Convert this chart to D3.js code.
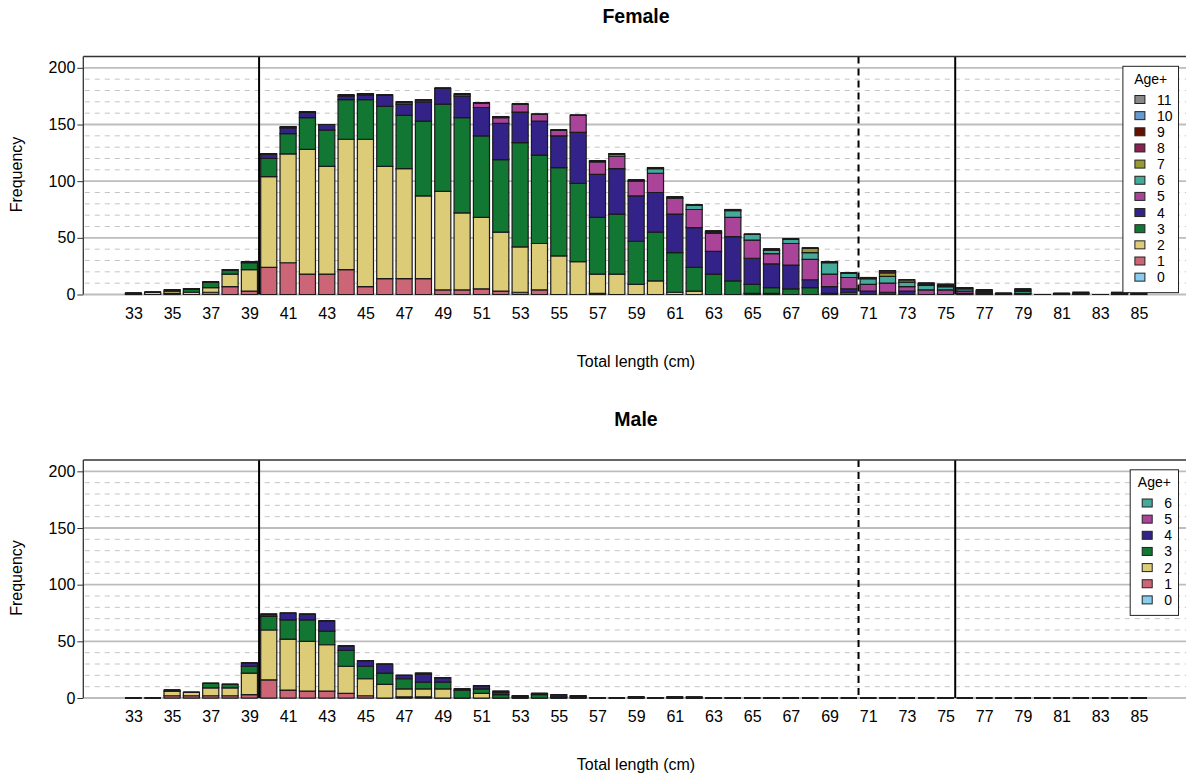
<!DOCTYPE html>
<html>
<head>
<meta charset="utf-8">
<script src="https://cdn.jsdelivr.net/npm/d3@7"></script>
<style>
  body { margin: 0; background: #fff; }
  text { font-family: "Liberation Sans", Arial, Helvetica, sans-serif; }
</style>
</head>
<body>
<svg id="chart" width="1186" height="778"></svg>
<script>
// length classes (cm), one bar each
const lengths = [33, 34, 35, 36, 37, 38, 39, 40, 41, 42,
  43, 44, 45, 46, 47, 48, 49, 50, 51, 52,
  53, 54, 55, 56, 57, 58, 59, 60, 61, 62,
  63, 64, 65, 66, 67, 68, 69, 70, 71, 72,
  73, 74, 75, 76, 77, 78, 79, 80, 81, 82,
  83, 84, 85];
const xTickLabels = [33, 35, 37, 39, 41, 43, 45, 47, 49, 51, 53, 55, 57, 59,
  61, 63, 65, 67, 69, 71, 73, 75, 77, 79, 81, 83, 85];
const yTicks = [0, 50, 100, 150, 200];
const ageColors = ['#88CCEE', '#CC6677', '#DDCC77', '#117733', '#332288', '#AA4499',
  '#44AA99', '#999933', '#882255', '#661100', '#6699CC', '#888888'];
const refLines = [39.5, 70.5, 75.5];

// Female counts per age, lengths 33..85
const femaleAge0 = [0, 0, 0, 0, 0, 0, 0, 0, 0, 0,  0, 0, 0, 0, 0, 0, 0, 0, 0, 0,
  0, 0, 0, 0, 0, 0, 0, 0, 0, 0,  0, 0, 0, 0, 0, 0, 0, 0, 0, 0,
  0, 0, 0, 0, 0, 0, 0, 0, 0, 0,  0, 0, 0];
const femaleAge1 = [0, 0, 1, 0, 2, 7, 3, 24, 28, 18,  18, 22, 7, 14, 14, 14, 4, 4, 5, 3,
  2, 4, 0, 0, 1, 0, 0, 0, 0, 0,  0, 0, 0, 0, 0, 0, 0, 0, 0, 0,
  0, 0, 0, 0, 0, 0, 0, 0, 0, 0,  0, 0, 0];
const femaleAge2 = [1, 2, 2, 2, 4, 11, 19, 80, 96, 110,  95, 115, 130, 99, 97, 73, 87, 68, 63, 52,
  40, 41, 34, 29, 17, 18, 9, 12, 2, 3,  0, 0, 1, 1, 0, 0, 0, 0, 0, 0,
  0, 0, 0, 0, 0, 0, 0, 0, 0, 0,  0, 0, 0];
const femaleAge3 = [0, 0, 1, 3, 5, 4, 6, 16, 18, 28,  32, 35, 35, 53, 47, 66, 77, 84, 72, 64,
  92, 78, 78, 69, 50, 53, 38, 43, 35, 21,  18, 12, 8, 5, 5, 6, 1, 2, 0, 0,
  0, 0, 0, 0, 0, 0, 0, 0, 0, 0,  0, 0, 0];
const femaleAge4 = [0, 0, 0, 0, 0, 0, 1, 4, 5, 5,  5, 3, 4, 10, 10, 17, 14, 19, 25, 32,
  27, 30, 28, 45, 38, 40, 40, 35, 34, 35,  20, 39, 23, 21, 21, 7, 6, 3, 3, 2,
  3, 0, 0, 1, 0, 0, 0, 0, 0, 0,  0, 0, 0];
const femaleAge5 = [0, 0, 0, 0, 0, 0, 0, 0, 1, 0,  0, 1, 1, 0, 2, 2, 0, 2, 4, 5,
  7, 6, 5, 15, 11, 11, 13, 17, 14, 16,  16, 17, 16, 9, 19, 18, 11, 10, 6, 8,
  4, 4, 4, 2, 1, 0, 1, 0, 0, 0,  0, 0, 0];
const femaleAge6 = [0, 0, 0, 0, 0, 0, 0, 0, 0, 0,  0, 0, 0, 0, 0, 0, 0, 0, 0, 1,
  0, 0, 0, 0, 1, 2, 1, 4, 1, 4,  1, 6, 5, 3, 4, 6, 10, 4, 5, 6,
  4, 4, 3, 2, 1, 0, 2, 0, 0, 0,  0, 0, 0];
const femaleAge7 = [0, 0, 0, 0, 0, 0, 0, 0, 0, 0,  0, 0, 0, 0, 0, 0, 0, 0, 0, 0,
  0, 0, 0, 0, 0, 0, 0, 1, 0, 0,  1, 1, 0, 1, 0, 4, 1, 0, 0, 3,
  2, 1, 0, 1, 1, 1, 0, 0, 0, 0,  0, 0, 0];
const femaleAge8 = [0, 0, 0, 0, 0, 0, 0, 0, 0, 0,  0, 0, 0, 0, 0, 0, 0, 0, 0, 0,
  0, 0, 0, 0, 0, 0, 0, 0, 0, 0,  0, 0, 0, 0, 0, 0, 0, 0, 1, 2,
  0, 0, 1, 0, 1, 0, 1, 0, 0, 1,  0, 0, 0];
const femaleAge9 = [0, 0, 0, 0, 0, 0, 0, 0, 0, 0,  0, 0, 0, 0, 0, 0, 0, 0, 0, 0,
  0, 0, 0, 0, 0, 0, 0, 0, 0, 0,  0, 0, 0, 0, 0, 0, 0, 0, 0, 0,
  0, 1, 1, 0, 0, 0, 0, 0, 1, 0,  0, 1, 0];
const femaleAge10 = [0, 0, 0, 0, 0, 0, 0, 0, 0, 0,  0, 0, 0, 0, 0, 0, 0, 0, 0, 0,
  0, 0, 0, 0, 0, 0, 0, 0, 0, 0,  0, 0, 0, 0, 0, 0, 0, 0, 0, 0,
  0, 0, 0, 0, 0, 0, 1, 0, 0, 1,  0, 0, 0];
const femaleAge11 = [0, 0, 0, 0, 0, 0, 0, 0, 0, 0,  0, 0, 0, 0, 0, 0, 0, 0, 0, 0,
  0, 0, 0, 0, 0, 0, 0, 0, 0, 0,  0, 0, 0, 0, 0, 0, 0, 0, 0, 0,
  0, 0, 0, 0, 0, 0, 0, 0, 0, 0,  0, 1, 1];

// Male counts per age, lengths 33..85
const maleAge0 = [0, 0, 0, 0, 0, 0, 0, 0, 0, 0,  0, 0, 0, 0, 0, 0, 0, 0, 0, 0,
  0, 0, 0, 0, 0, 0, 0, 0, 0, 0,  0, 0, 0, 0, 0, 0, 0, 0, 0, 0,
  0, 0, 0, 0, 0, 0, 0, 0, 0, 0,  0, 0, 0];
const maleAge1 = [0, 0, 2, 2, 2, 2, 3, 16, 7, 6,  6, 4, 2, 0, 1, 1, 0, 0, 0, 0,
  0, 0, 0, 0, 0, 0, 0, 0, 0, 0,  0, 0, 0, 0, 0, 0, 0, 0, 0, 0,
  0, 0, 0, 0, 0, 0, 0, 0, 0, 0,  0, 0, 0];
const maleAge2 = [0, 0, 4, 3, 7, 7, 19, 44, 45, 44,  41, 24, 15, 12, 7, 7, 8, 0, 4, 0,
  0, 0, 0, 0, 0, 0, 0, 0, 0, 0,  0, 0, 0, 0, 0, 0, 0, 0, 0, 0,
  0, 0, 0, 0, 0, 0, 0, 0, 0, 0,  0, 0, 0];
const maleAge3 = [0, 0, 1, 0, 4, 3, 6, 12, 17, 19,  12, 14, 11, 10, 9, 6, 6, 7, 4, 3,
  1, 3, 1, 1, 0, 0, 0, 0, 0, 0,  0, 0, 0, 0, 0, 0, 0, 0, 0, 0,
  0, 0, 0, 0, 0, 0, 0, 0, 0, 0,  0, 0, 0];
const maleAge4 = [0, 0, 0, 0, 0, 0, 3, 2, 6, 5,  9, 4, 5, 8, 3, 7, 4, 1, 3, 2,
  1, 1, 2, 1, 0, 0, 1, 0, 1, 0,  0, 0, 0, 0, 0, 0, 0, 0, 0, 0,
  0, 0, 0, 0, 0, 0, 0, 0, 0, 0,  0, 0, 0];
const maleAge5 = [0, 0, 0, 0, 0, 0, 0, 0, 0, 0,  0, 0, 0, 0, 0, 1, 0, 0, 0, 1,
  0, 0, 0, 0, 0, 0, 0, 0, 0, 1,  0, 0, 0, 0, 0, 0, 0, 0, 0, 0,
  0, 0, 0, 0, 0, 0, 0, 0, 0, 0,  0, 0, 0];
const maleAge6 = [0, 0, 0, 0, 0, 0, 0, 0, 0, 0,  0, 0, 0, 0, 0, 0, 0, 0, 0, 0,
  0, 0, 0, 0, 0, 0, 0, 0, 0, 0,  0, 0, 0, 0, 0, 0, 0, 0, 0, 0,
  0, 0, 0, 0, 0, 0, 0, 0, 0, 0,  0, 0, 0];

const femaleAges = [femaleAge0, femaleAge1, femaleAge2, femaleAge3, femaleAge4, femaleAge5,
  femaleAge6, femaleAge7, femaleAge8, femaleAge9, femaleAge10, femaleAge11];
const maleAges = [maleAge0, maleAge1, maleAge2, maleAge3, maleAge4, maleAge5, maleAge6];

const svg = d3.select('#chart');

const plotLeft = 83.3;
const plotRight = 1189;
const plotHeight = 238;

const x = d3.scaleLinear().domain([30.41, 87.59]).range([plotLeft, plotRight]);
const barWidth = (x(1) - x(0)) * 0.833;

const drawLegend = (g, ages, top) => {
  const right = 1178.5;
  const labels = ages.map((d, i) => i).reverse();
  const labelW = d3.max(labels, (d) => String(d).length) * 7.3;
  const labelLeft = right - 7 - labelW;
  const swatchLeft = labelLeft - 22;
  const boxLeft = swatchLeft - 12;
  const firstY = top + 43;
  const step = 16.15;
  const bottom = firstY + step * (labels.length - 1) + 15.5;

  g.append('rect')
    .attr('x', boxLeft)
    .attr('y', top + 9.8)
    .attr('width', right - boxLeft)
    .attr('height', bottom - top - 9.8)
    .attr('fill', '#fff')
    .attr('stroke', '#222')
    .attr('stroke-width', 1);

  g.append('text')
    .attr('x', (boxLeft + right) / 2)
    .attr('y', top + 27)
    .attr('text-anchor', 'middle')
    .style('font-size', '14px')
    .text('Age+');

  labels.forEach((age, i) => {
    const cy = firstY + i * step;
    g.append('rect')
      .attr('x', swatchLeft)
      .attr('y', cy - 4)
      .attr('width', 10)
      .attr('height', 8)
      .attr('fill', ageColors[age])
      .attr('stroke', '#222')
      .attr('stroke-width', 1);
    g.append('text')
      .attr('x', labelLeft)
      .attr('y', cy + 5)
      .style('font-size', '14px')
      .text(age);
  });
};

const drawPanel = (title, ages, top) => {
  const g = svg.append('g');
  const y = d3.scaleLinear().domain([0, 210]).range([top + plotHeight, top]);

  // grid
  const minor = d3.range(10, 210, 10).filter((d) => d % 50 !== 0);
  g.selectAll('.minor')
    .data(minor)
    .enter().append('line')
    .attr('x1', plotLeft)
    .attr('x2', plotRight)
    .attr('y1', (d) => y(d))
    .attr('y2', (d) => y(d))
    .attr('stroke', '#c4c4c4')
    .attr('stroke-width', 1)
    .attr('stroke-dasharray', '5,5')
    .attr('stroke-dashoffset', -1.5);

  g.selectAll('.major')
    .data(yTicks)
    .enter().append('line')
    .attr('x1', plotLeft)
    .attr('x2', plotRight)
    .attr('y1', (d) => y(d))
    .attr('y2', (d) => y(d))
    .attr('stroke', '#bdbdbd')
    .attr('stroke-width', 1.8);

  // stacked bars
  lengths.forEach((len, i) => {
    let base = 0;
    const x0 = x(len) - barWidth / 2;
    const x1 = x(len) + barWidth / 2;
    ages.forEach((series, a) => {
      const v = series[i];
      const y0 = y(base);
      const y1 = y(base + v);
      g.append('path')
        .attr('d', `M${x0},${y0}H${x1}V${y1}H${x0}Z`)
        .attr('fill', ageColors[a])
        .attr('stroke', '#1a1a1a')
        .attr('stroke-width', 1.2);
      base += v;
    });
  });

  // reference lines
  refLines.forEach((r, i) => {
    g.append('line')
      .attr('x1', x(r))
      .attr('x2', x(r))
      .attr('y1', top)
      .attr('y2', y(0))
      .attr('stroke', '#000')
      .attr('stroke-width', 2)
      .attr('stroke-dasharray', i === 1 ? '7,5' : null);
  });

  // frame
  g.append('line')
    .attr('x1', plotLeft).attr('x2', plotRight)
    .attr('y1', top).attr('y2', top)
    .attr('stroke', '#333').attr('stroke-width', 1.3);
  g.append('line')
    .attr('x1', plotLeft).attr('x2', plotLeft)
    .attr('y1', top).attr('y2', y(0))
    .attr('stroke', '#333').attr('stroke-width', 1.3);

  // axes
  const yAxis = d3.axisLeft(y).tickValues(yTicks).tickSize(6).tickPadding(2);
  const ya = g.append('g')
    .attr('transform', `translate(${plotLeft},0)`)
    .call(yAxis);
  ya.select('.domain').remove();
  ya.selectAll('line').attr('stroke', '#333');
  ya.selectAll('text').style('font-size', '16px').attr('fill', '#000');

  const xAxis = d3.axisBottom(x).tickValues(xTickLabels).tickSize(0).tickPadding(13)
    .tickFormat((d) => d);
  const xa = g.append('g')
    .attr('transform', `translate(0,${y(0)})`)
    .call(xAxis);
  xa.select('.domain').remove();
  xa.selectAll('text').style('font-size', '16px').attr('fill', '#000');

  // titles
  g.append('text')
    .attr('x', 636)
    .attr('y', top - 34)
    .attr('text-anchor', 'middle')
    .style('font-size', '19.5px')
    .style('font-weight', 'bold')
    .text(title);

  g.append('text')
    .attr('x', 636)
    .attr('y', top + 310)
    .attr('text-anchor', 'middle')
    .style('font-size', '16px')
    .text('Total length (cm)');

  g.append('text')
    .attr('transform', `translate(21.5,${top + 118}) rotate(-90)`)
    .attr('text-anchor', 'middle')
    .style('font-size', '16px')
    .text('Frequency');

  drawLegend(g, ages, top);
};

drawPanel('Female', femaleAges, 56.5);
drawPanel('Male', maleAges, 460);
</script>
</body>
</html>
